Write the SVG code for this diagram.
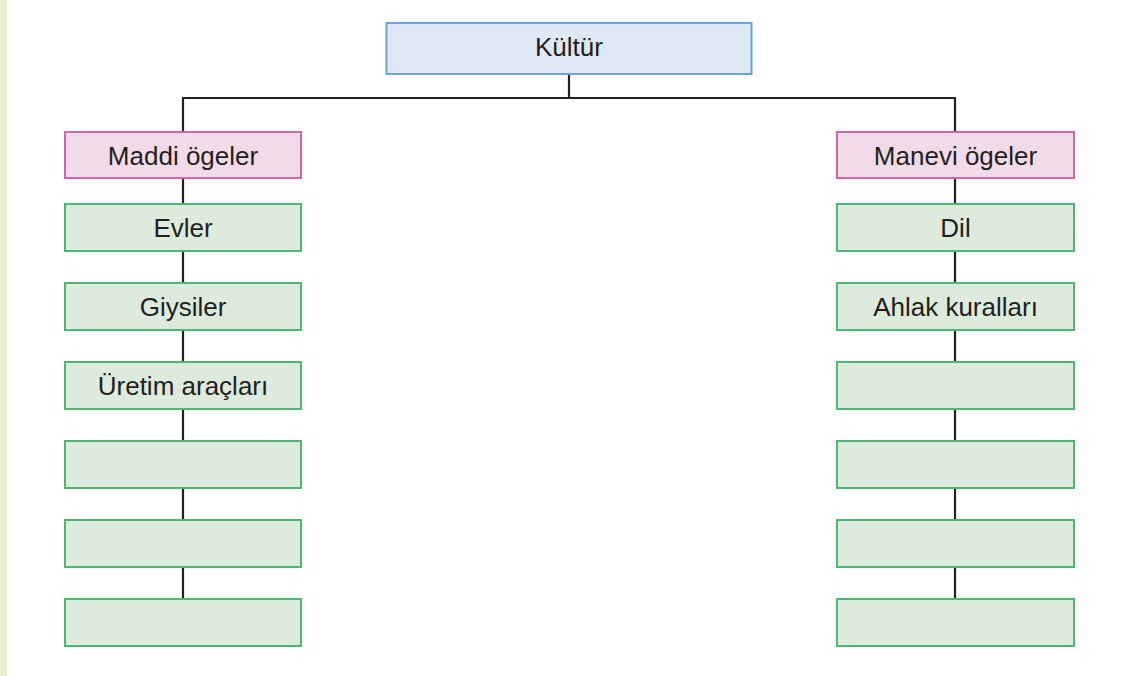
<svg xmlns="http://www.w3.org/2000/svg" width="1127" height="676" viewBox="0 0 1127 676">
<style>
.t{font-family:"Liberation Sans",Arial,sans-serif;font-size:26px;fill:#231f20;text-anchor:middle}
.g{fill:#dcebdc;stroke:#4cb874;stroke-width:2}
.p{fill:#f2dbe9;stroke:#d366a8;stroke-width:2}
.b{fill:#dfe8f5;stroke:#70a1d7;stroke-width:2}
.c{fill:none;stroke:#231f20;stroke-width:2.2}
</style>
<rect x="0" y="0" width="1127" height="676" fill="#ffffff"/>
<rect x="0" y="0" width="7" height="676" fill="#e8edcc"/>
<g id="connectors">
<path class="c" d="M569 75V98M182 98H956M183 98V598M955 98V598"/>
</g>
<g id="kultur"><rect class="b" x="386.5" y="23" width="365" height="51"/><text class="t" x="569" y="56">Kültür</text></g>
<g id="maddi"><rect class="p" x="65" y="132" width="236" height="46"/><text class="t" x="183" y="164.5">Maddi ögeler</text></g>
<g id="evler"><rect class="g" x="65" y="204" width="236" height="47"/><text class="t" x="183" y="237">Evler</text></g>
<g id="giysiler"><rect class="g" x="65" y="283" width="236" height="47"/><text class="t" x="183" y="316">Giysiler</text></g>
<g id="uretim"><rect class="g" x="65" y="362" width="236" height="47"/><text class="t" x="183" y="395">Üretim araçları</text></g>
<g id="l4"><rect class="g" x="65" y="441" width="236" height="47"/></g>
<g id="l5"><rect class="g" x="65" y="520" width="236" height="47"/></g>
<g id="l6"><rect class="g" x="65" y="599" width="236" height="47"/></g>
<g id="manevi"><rect class="p" x="837" y="132" width="237" height="46"/><text class="t" x="955.5" y="164.5">Manevi ögeler</text></g>
<g id="dil"><rect class="g" x="837" y="204" width="237" height="47"/><text class="t" x="955.5" y="237">Dil</text></g>
<g id="ahlak"><rect class="g" x="837" y="283" width="237" height="47"/><text class="t" x="955.5" y="316">Ahlak kuralları</text></g>
<g id="r4"><rect class="g" x="837" y="362" width="237" height="47"/></g>
<g id="r5"><rect class="g" x="837" y="441" width="237" height="47"/></g>
<g id="r6"><rect class="g" x="837" y="520" width="237" height="47"/></g>
<g id="r7"><rect class="g" x="837" y="599" width="237" height="47"/></g>
</svg>
